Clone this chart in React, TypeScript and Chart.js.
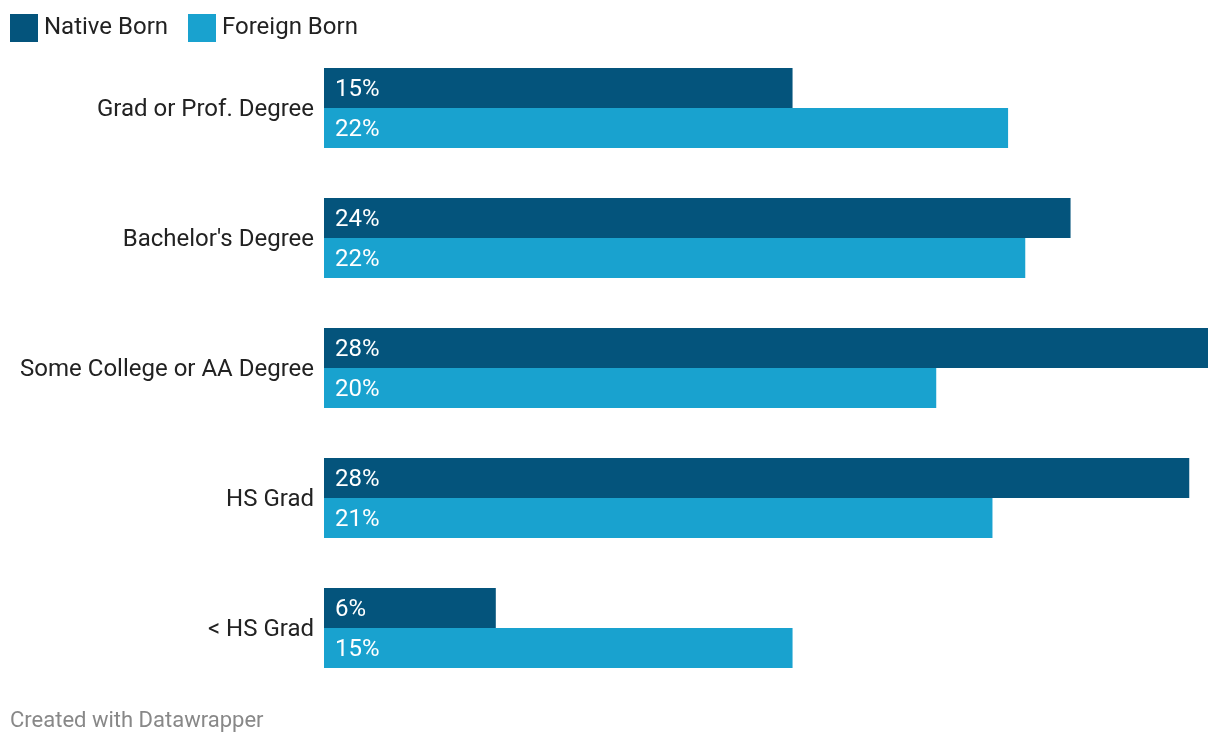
import React, { useEffect, useRef } from "react";
import { Chart, registerables } from "chart.js";

Chart.register(...registerables);

const categories = [
  "Grad or Prof. Degree",
  "Bachelor's Degree",
  "Some College or AA Degree",
  "HS Grad",
  "< HS Grad",
];
const nativeBorn = [15.0, 23.9, 28.3, 27.7, 5.5];
const foreignBorn = [21.9, 22.45, 19.6, 21.4, 15.0];
const seriesNames = ["Native Born", "Foreign Born"];
const colors = ["#04547c", "#19a2cf"];
const FONT = "Roboto, 'Noto Sans', sans-serif";

const valueLabels = {
  id: "valueLabels",
  afterDatasetsDraw(chart: any) {
    const ctx = chart.ctx;
    ctx.save();
    ctx.font = `24px ${FONT}`;
    ctx.fillStyle = "#ffffff";
    ctx.textAlign = "left";
    ctx.textBaseline = "middle";
    chart.data.datasets.forEach((ds: any, di: number) => {
      const meta = chart.getDatasetMeta(di);
      meta.data.forEach((bar: any, i: number) => {
        const v = ds.data[i];
        ctx.fillText(`${Math.round(v)}%`, bar.base + 11, bar.y + 1.5);
      });
    });
    ctx.restore();
  },
};

export default function App() {
  const ref = useRef<HTMLCanvasElement | null>(null);
  useEffect(() => {
    if (!ref.current) return;
    const chart = new Chart(ref.current, {
      type: "bar",
      data: {
        labels: categories,
        datasets: [
          {
            label: seriesNames[0],
            data: nativeBorn,
            backgroundColor: colors[0],
            categoryPercentage: 80 / 130,
            barPercentage: 1,
          },
          {
            label: seriesNames[1],
            data: foreignBorn,
            backgroundColor: colors[1],
            categoryPercentage: 80 / 130,
            barPercentage: 1,
          },
        ],
      },
      options: {
        indexAxis: "y",
        animation: false,
        responsive: false,
        maintainAspectRatio: false,
        layout: { padding: { left: 0, right: 12, top: 43, bottom: 53 } },
        plugins: {
          legend: { display: false },
          tooltip: { enabled: false },
        },
        scales: {
          x: {
            display: false,
            min: 0,
            max: 28.3,
          },
          y: {
            grid: { display: false, drawTicks: false },
            border: { display: false },
            afterFit(scale: any) {
              scale.width = 324;
            },
            ticks: {
              padding: 10,
              labelOffset: 2,
              color: "#222222",
              font: { family: FONT, size: 24 },
            },
          },
        },
      },
      plugins: [valueLabels],
    });
    return () => chart.destroy();
  }, []);

  const legendItem = (name: string, color: string, left: number) => (
    <React.Fragment key={name}>
      <div style={{ position: "absolute", left, top: 14, width: 28, height: 28, background: color }} />
      <span
        style={{
          position: "absolute",
          left: left + 34,
          top: 12,
          fontFamily: FONT,
          fontSize: 24,
          color: "#222",
          lineHeight: "28px",
          whiteSpace: "nowrap",
        }}
      >
        {name}
      </span>
    </React.Fragment>
  );

  return (
    <div
      style={{
        position: "fixed",
        left: 0,
        top: 0,
        width: 1220,
        height: 746,
        background: "#fff",
        overflow: "hidden",
      }}
    >
      <canvas ref={ref} width={1220} height={746} style={{ position: "absolute", left: 0, top: 0 }} />
      {legendItem(seriesNames[0], colors[0], 10)}
      {legendItem(seriesNames[1], colors[1], 188)}
      <div
        style={{
          position: "absolute",
          left: 10,
          top: 706,
          fontFamily: FONT,
          fontSize: 22,
          color: "#888",
          lineHeight: "28px",
        }}
      >
        Created with Datawrapper
      </div>
    </div>
  );
}
